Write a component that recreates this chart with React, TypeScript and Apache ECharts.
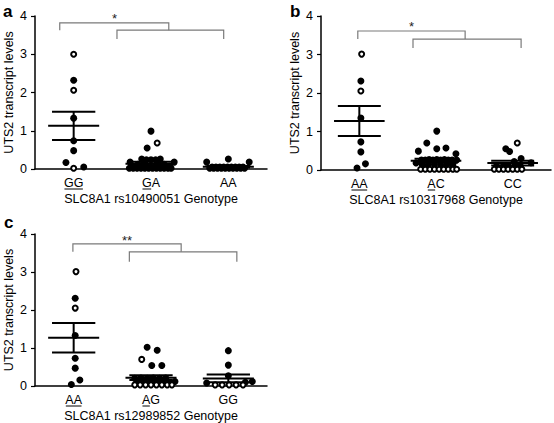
import React, { useEffect, useRef } from "react";
import * as echarts from "echarts";

// ---------- data ----------
const panelLetters = ["a", "b", "c"];
const xAxisNames = [
  "SLC8A1 rs10490051 Genotype",
  "SLC8A1 rs10317968 Genotype",
  "SLC8A1 rs12989852 Genotype",
];
const yAxisName = "UTS2 transcript levels";
const yTicks = [0, 1, 2, 3, 4];
const categoryPositions = [0.5, 1.5, 2.5];

const categoriesA = ["GG", "GA", "AA"];
const categoriesB = ["AA", "AC", "CC"];
const categoriesC = ["AA", "AG", "GG"];
// number of leading characters underlined in each label
const underlineA = [2, 1, 0];
const underlineB = [2, 1, 0];
const underlineC = [2, 1, 0];

// individual measurements [x (jittered category position), value]
const filledA = [
  [0.5, 2.32], [0.5, 1.33], [0.5, 0.74], [0.5, 0.48], [0.4, 0.17], [0.63, 0.05],
  [1.5, 0.99], [1.45, 0.55],
  [1.23, 0.18], [1.8, 0.18],
  [1.38, 0.26], [1.44, 0.24], [1.5, 0.24], [1.56, 0.24], [1.62, 0.26],
  [1.22, 0.02], [1.27, 0.02], [1.32, 0.02], [1.37, 0.02], [1.42, 0.02], [1.47, 0.02], [1.52, 0.02], [1.57, 0.02], [1.62, 0.02], [1.67, 0.02], [1.72, 0.02], [1.76, 0.02],
  [1.25, 0.07], [1.3, 0.07], [1.35, 0.07], [1.4, 0.07], [1.45, 0.07], [1.55, 0.07], [1.6, 0.07], [1.65, 0.07], [1.7, 0.07], [1.74, 0.07],
  [1.33, 0.12], [1.4, 0.13], [1.6, 0.13], [1.67, 0.12],
  [2.22, 0.18], [2.5, 0.26], [2.77, 0.18],
  [2.26, 0.02], [2.31, 0.02], [2.36, 0.02], [2.41, 0.02], [2.46, 0.02], [2.51, 0.02], [2.56, 0.02], [2.61, 0.02], [2.66, 0.02], [2.71, 0.02],
  [2.29, 0.05], [2.34, 0.05], [2.39, 0.05], [2.44, 0.05], [2.49, 0.05], [2.54, 0.05], [2.59, 0.05], [2.64, 0.05], [2.69, 0.05],
];
const openA = [[0.5, 3.0], [0.5, 2.06], [0.5, 0.02], [1.58, 0.68]];
const meanA = [1.13, 0.14, 0.06];
const semA = [0.37, 0.05, 0.02];

const filledB = [
  [0.52, 2.31], [0.52, 1.35], [0.52, 0.73], [0.52, 0.47], [0.58, 0.16], [0.47, 0.05],
  [1.51, 1.01], [1.38, 0.7], [1.27, 0.49], [1.51, 0.55], [1.63, 0.57], [1.76, 0.42], [1.24, 0.18],
  [1.31, 0.26], [1.36, 0.26], [1.41, 0.27], [1.46, 0.26], [1.51, 0.27], [1.56, 0.26], [1.61, 0.27], [1.66, 0.26], [1.71, 0.26], [1.77, 0.26],
  [1.32, 0.14], [1.4, 0.13], [1.48, 0.14], [1.56, 0.13], [1.64, 0.14], [1.72, 0.13],
  [2.41, 0.55], [2.46, 0.48], [2.61, 0.3], [2.74, 0.19], [2.29, 0.1], [2.38, 0.11], [2.44, 0.1], [2.53, 0.12], [2.6, 0.1], [2.52, 0.22],
];
const openB = [
  [0.53, 3.01], [0.52, 2.05],
  [1.3, 0.02], [1.36, 0.02], [1.42, 0.02], [1.48, 0.02], [1.54, 0.02], [1.6, 0.02], [1.66, 0.02], [1.72, 0.02], [1.77, 0.02],
  [2.56, 0.7], [2.26, 0.02], [2.32, 0.02], [2.38, 0.02], [2.44, 0.02], [2.5, 0.02], [2.56, 0.02], [2.62, 0.02],
];
const meanB = [1.27, 0.24, 0.18];
const semB = [0.39, 0.05, 0.06];

const filledC = [
  [0.52, 2.31], [0.52, 1.33], [0.52, 0.73], [0.52, 0.47], [0.58, 0.16], [0.47, 0.04],
  [1.45, 1.02], [1.58, 0.94], [1.51, 0.54], [1.64, 0.54],
  [1.29, 0.2], [1.37, 0.21], [1.45, 0.2], [1.53, 0.21], [1.61, 0.2], [1.69, 0.21],
  [1.33, 0.1], [1.41, 0.1], [1.49, 0.1], [1.57, 0.1], [1.65, 0.1], [1.73, 0.1], [1.81, 0.12],
  [2.5, 0.93], [2.5, 0.55], [2.5, 0.27], [2.22, 0.08], [2.81, 0.12], [2.72, 0.1],
];
const openC = [
  [0.53, 3.01], [0.52, 2.05], [1.38, 0.7],
  [1.29, 0.03], [1.36, 0.03], [1.43, 0.03], [1.5, 0.03], [1.57, 0.03], [1.64, 0.03], [1.71, 0.03], [1.77, 0.03],
  [2.33, 0.03], [2.42, 0.03], [2.51, 0.03], [2.6, 0.03], [2.69, 0.03],
];
const meanC = [1.27, 0.22, 0.2];
const semC = [0.39, 0.06, 0.1];

// significance brackets [xLeft, xRight, yTop, yLegEnd] in data units
const bracketsA = [[0.32, 1.73, 3.82, 3.63], [1.06, 2.44, 3.63, 3.4]];
const bracketsB = [[0.48, 1.88, 3.61, 3.4], [1.2, 2.61, 3.4, 3.17]];
const bracketsC = [[0.49, 1.89, 3.74, 3.53], [1.22, 2.61, 3.53, 3.27]];
// significance labels [x, y, text]
const starsA = [[1.03, 3.93, "*"]];
const starsB = [[1.18, 3.72, "*"]];
const starsC = [[1.19, 3.84, "**"]];

// ---------- layout / style ----------
const FONT = "'Liberation Sans', Arial, sans-serif";
const FS = 12.5;
const grids = [
  { left: 35, top: 16, width: 232, height: 153 },
  { left: 321, top: 16, width: 232, height: 154 },
  { left: 35, top: 234, width: 232, height: 154 },
];
const letterPos = [
  [3, 20],
  [290, 20],
  [4, 231],
];
const MEAN_HALF = 0.33;
const CAP_HALF = 0.28;

const panels = [
  { cats: categoriesA, ul: underlineA, filled: filledA, open: openA, mean: meanA, sem: semA, brackets: bracketsA, stars: starsA },
  { cats: categoriesB, ul: underlineB, filled: filledB, open: openB, mean: meanB, sem: semB, brackets: bracketsB, stars: starsB },
  { cats: categoriesC, ul: underlineC, filled: filledC, open: openC, mean: meanC, sem: semC, brackets: bracketsC, stars: starsC },
];

function buildOption() {
  const xAxis: any[] = [];
  const yAxis: any[] = [];
  const series: any[] = [];
  panels.forEach((p, i) => {
    xAxis.push({
      type: "value",
      gridIndex: i,
      min: 0,
      max: 3,
      interval: 0.5,
      name: xAxisNames[i],
      nameLocation: "middle",
      nameGap: 23,
      nameTextStyle: { color: "#000", fontSize: FS, fontFamily: FONT },
      axisLine: { show: true, lineStyle: { color: "#000", width: 1.5 } },
      axisTick: { show: false },
      splitLine: { show: false },
      axisLabel: {
        color: "#000",
        fontSize: FS,
        fontFamily: FONT,
        margin: 7,
        showMinLabel: true,
        showMaxLabel: true,
        formatter: (v: number) => {
          const k = categoryPositions.findIndex((c) => Math.abs(c - v) < 1e-6);
          return k >= 0 ? p.cats[k] : "";
        },
      },
    });
    yAxis.push({
      type: "value",
      gridIndex: i,
      min: yTicks[0],
      max: yTicks[yTicks.length - 1],
      interval: 1,
      name: yAxisName,
      nameLocation: "middle",
      nameGap: 20,
      nameTextStyle: { color: "#000", fontSize: FS, fontFamily: FONT },
      axisLine: { show: true, lineStyle: { color: "#000", width: 1.5 } },
      axisTick: { show: true, length: 4, lineStyle: { color: "#000", width: 1.2 } },
      splitLine: { show: false },
      axisLabel: { color: "#000", fontSize: FS, fontFamily: FONT, margin: 8 },
    });
    // brackets
    series.push({
      type: "custom",
      xAxisIndex: i,
      yAxisIndex: i,
      silent: true,
      clip: false,
      data: p.brackets,
      renderItem: (params: any, api: any) => {
        const x1 = api.value(0), x2 = api.value(1), yt = api.value(2), yl = api.value(3);
        const pts = [api.coord([x1, yl]), api.coord([x1, yt]), api.coord([x2, yt]), api.coord([x2, yl])];
        return {
          type: "polyline",
          shape: { points: pts },
          style: { stroke: "#7a7a7a", lineWidth: 1.2, fill: "none" },
        };
      },
    });
    series.push({
      type: "custom",
      xAxisIndex: i,
      yAxisIndex: i,
      silent: true,
      clip: false,
      data: p.stars,
      renderItem: (params: any, api: any) => {
        const s = p.stars[params.dataIndex];
        const c = api.coord([s[0], s[1]]);
        return {
          type: "text",
          style: {
            text: s[2],
            x: c[0],
            y: c[1],
            fill: "#222",
            font: `13px ${FONT}`,
            align: "center",
            verticalAlign: "middle",
          },
        };
      },
    });
    // points
    series.push({
      type: "scatter",
      xAxisIndex: i,
      yAxisIndex: i,
      symbol: "circle",
      symbolSize: 7,
      itemStyle: { color: "#000", opacity: 1 },
      data: p.filled,
      silent: true,
    });
    series.push({
      type: "scatter",
      xAxisIndex: i,
      yAxisIndex: i,
      symbol: "circle",
      symbolSize: 5,
      itemStyle: { color: "#fff", borderColor: "#000", borderWidth: 2, opacity: 1 },
      data: p.open,
      silent: true,
    });
    // mean +- SEM
    series.push({
      type: "custom",
      xAxisIndex: i,
      yAxisIndex: i,
      silent: true,
      clip: false,
      z: 5,
      data: categoryPositions.map((c, k) => [c, p.mean[k], p.sem[k]]),
      renderItem: (params: any, api: any) => {
        const x = api.value(0), m = api.value(1), s = api.value(2);
        const st = { stroke: "#000", lineWidth: 2 };
        const L = (a: number[], b: number[]) => ({
          type: "line",
          shape: { x1: a[0], y1: a[1], x2: b[0], y2: b[1] },
          style: st,
        });
        return {
          type: "group",
          children: [
            L(api.coord([x - MEAN_HALF, m]), api.coord([x + MEAN_HALF, m])),
            L(api.coord([x - CAP_HALF, m + s]), api.coord([x + CAP_HALF, m + s])),
            L(api.coord([x - CAP_HALF, m - s]), api.coord([x + CAP_HALF, m - s])),
            L(api.coord([x, m - s]), api.coord([x, m + s])),
          ],
        };
      },
    });
  });
  const letters = panelLetters.map((t, i) => ({
    type: "text",
    x: letterPos[i][0],
    y: letterPos[i][1],
    style: {
      text: t,
      fill: "#000",
      font: `bold 17px ${FONT}`,
      verticalAlign: "bottom",
      align: "left",
    },
  }));
  return {
    animation: false,
    backgroundColor: "#fff",
    grid: grids.map((g) => ({ ...g, containLabel: false })),
    xAxis,
    yAxis,
    series,
    graphic: letters,
  };
}

export default function App() {
  const ref = useRef<HTMLDivElement>(null);
  useEffect(() => {
    document.body.style.margin = "0";
    const chart = echarts.init(ref.current as HTMLDivElement, null, { renderer: "svg" });
    const option: any = buildOption();
    chart.setOption(option);
    // underline parts of genotype labels
    const ctx = document.createElement("canvas").getContext("2d");
    const lines: any[] = [];
    if (ctx) {
      ctx.font = `${FS}px ${FONT}`;
      panels.forEach((p, i) => {
        const y0 = chart.convertToPixel({ yAxisIndex: i } as any, 0) as number;
        p.cats.forEach((cat, j) => {
          const n = p.ul[j];
          if (!n) return;
          const cx = chart.convertToPixel({ xAxisIndex: i } as any, categoryPositions[j]) as number;
          const w = ctx.measureText(cat).width;
          const wu = ctx.measureText(cat.slice(0, n)).width;
          const x1 = cx - w / 2 + 0.5;
          const x2 = cx - w / 2 + wu - 0.5;
          const yy = y0 + 20;
          lines.push({
            type: "line",
            shape: { x1, y1: yy, x2, y2: yy },
            style: { stroke: "#000", lineWidth: 1 },
          });
        });
      });
    }
    chart.setOption({ graphic: [...option.graphic, ...lines] });
    return () => chart.dispose();
  }, []);
  return <div ref={ref} style={{ width: 554, height: 423 }} />;
}
